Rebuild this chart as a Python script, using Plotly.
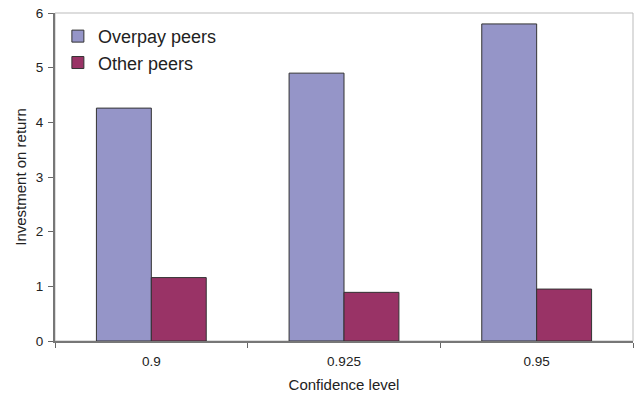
import plotly.graph_objects as go

categories = ["0.9", "0.925", "0.95"]
overpay = [4.26, 4.90, 5.80]
other = [1.16, 0.89, 0.95]

fig = go.Figure()
fig.add_trace(go.Bar(x=categories, y=overpay, name="Overpay peers",
                     marker=dict(color="#9595C8", line=dict(color="#333333", width=1))))
fig.add_trace(go.Bar(x=categories, y=other, name="Other peers",
                     marker=dict(color="#993366", line=dict(color="#333333", width=1))))

fig.update_layout(
    width=635, height=397,
    margin=dict(l=55, r=2, t=13, b=56),
    paper_bgcolor="white", plot_bgcolor="white",
    barmode="group", bargap=0.43, bargroupgap=0,
    font=dict(family="Liberation Sans, Arial, sans-serif", color="#222222", size=13),
    legend=dict(x=0.005, y=0.985, xanchor="left", yanchor="top",
                font=dict(size=18, color="#222222"), bgcolor="rgba(0,0,0,0)",
                tracegroupgap=0, itemwidth=30),
    showlegend=True,
    shapes=[dict(type="rect", xref="paper", yref="paper", x0=0, y0=0, x1=1, y1=1,
                 line=dict(color="#BBBBBB", width=1), layer="below")],
)
fig.update_xaxes(type="category", tickson="boundaries", ticks="outside", ticklen=5,
                 tickcolor="#666666", showline=True, linecolor="#777777", linewidth=2,
                 showgrid=False, ticklabelstandoff=7,
                 title=dict(text="Confidence level", font=dict(size=15), standoff=11),
                 tickfont=dict(size=13.5))
fig.update_yaxes(range=[0, 6], dtick=1, ticks="outside", ticklen=5, tickcolor="#666666",
                 showline=True, linecolor="#777777", linewidth=2, showgrid=False, zeroline=False,
                 ticklabelstandoff=2,
                 title=dict(text="Investment on return", font=dict(size=15), standoff=6),
                 tickfont=dict(size=13.5))

fig.write_html("out.html")
